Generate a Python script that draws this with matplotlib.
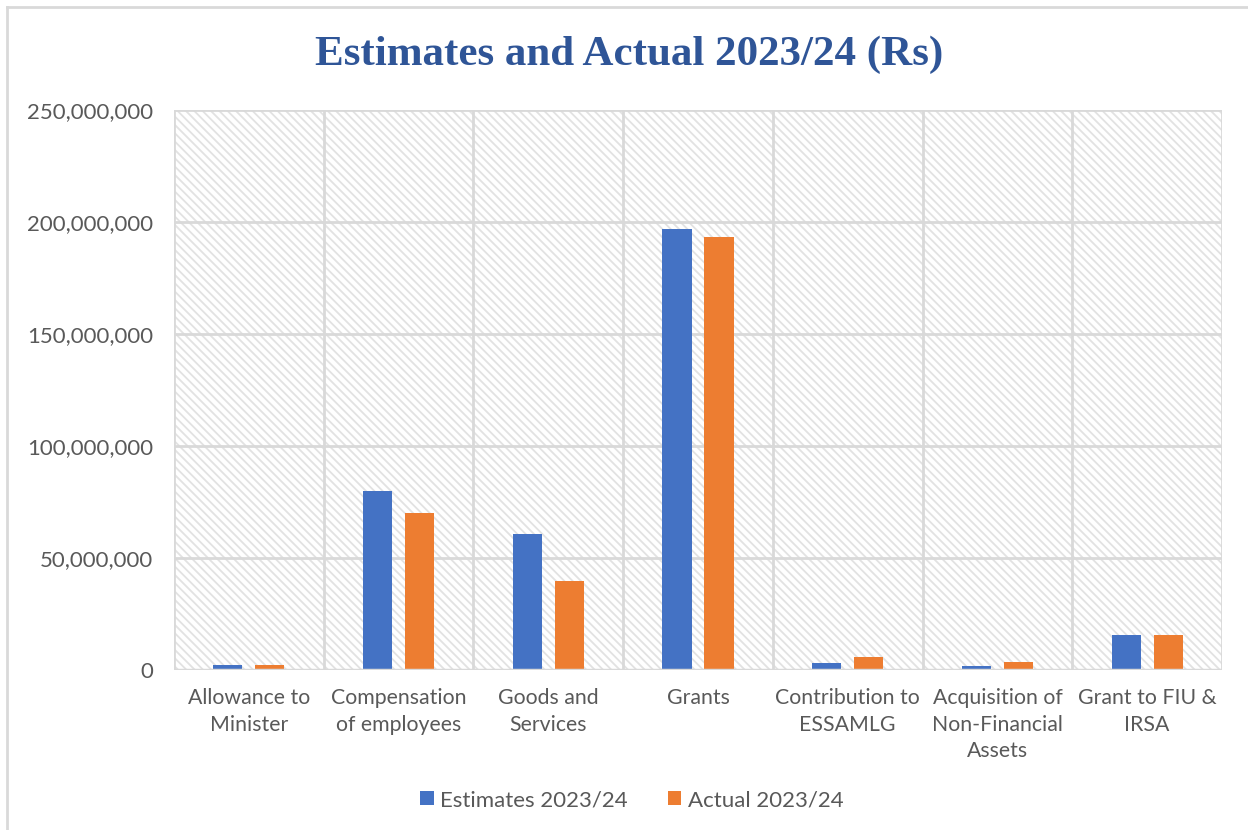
import numpy as np
import matplotlib.pyplot as plt
from matplotlib.patches import Rectangle
from matplotlib.lines import Line2D
from matplotlib.ticker import FuncFormatter, MultipleLocator

# Chart data
categories = ["Allowance to\nMinister", "Compensation\nof employees", "Goods and\nServices",
              "Grants", "Contribution to\nESSAMLG", "Acquisition of\nNon-Financial\nAssets",
              "Grant to FIU &\nIRSA"]
estimates = [2300000, 80000000, 60800000, 196900000, 3300000, 1800000, 15600000]
actual = [2300000, 70100000, 39700000, 193300000, 5700000, 3400000, 15600000]
series_names = ["Estimates 2023/24", "Actual 2023/24"]

blue = "#4472C4"
orange = "#ED7D31"
grid_col = "#d9d9d9"
text_col = "#595959"
plt.rcParams['hatch.linewidth'] = 1.3
plt.rcParams['font.family'] = ['Lato', 'DejaVu Sans']

fig = plt.figure(figsize=(12.48, 8.30), dpi=100)
ax = fig.add_axes([174 / 1248, 1 - 670 / 830, (1222 - 174) / 1248, (670 - 110) / 830])

x = np.arange(len(categories))
w = 0.195
ax.bar(x - 0.14, estimates, w, color=blue, label=series_names[0], zorder=3)
ax.bar(x + 0.14, actual, w, color=orange, label=series_names[1], zorder=3)

# hatched plot area background
ax.add_patch(Rectangle((0, 0), 1, 1, transform=ax.transAxes, facecolor="white",
                       edgecolor="#e2e2e2", hatch="\\\\\\\\", linewidth=0, zorder=0))

ax.set_xlim(-0.5, len(categories) - 0.5)
ax.set_ylim(0, 250000000)
ax.yaxis.set_major_locator(MultipleLocator(50000000))
ax.yaxis.set_major_formatter(FuncFormatter(lambda v, p: f"{int(v):,}"))

# gridlines at category boundaries and y ticks
for b in np.arange(-0.5, len(categories) + 0.5, 1):
    ax.axvline(b, color=grid_col, lw=2, zorder=1)
for yv in np.arange(50000000, 250000001, 50000000):
    ax.axhline(yv, color=grid_col, lw=2, zorder=1)
ax.axhline(0, color=grid_col, lw=2.5, zorder=4)

for s in ax.spines.values():
    s.set_visible(False)

ax.set_xticks(x)
ax.tick_params(axis="both", length=0, labelsize=16, labelcolor=text_col)
ax.set_xticklabels(categories, fontsize=15.3, color=text_col, linespacing=1.42, va="top")
ax.tick_params(axis="x", pad=13)
ax.tick_params(axis="y", pad=15)

fig.text(629 / 1248, 1 - 55 / 830, "Estimates and Actual 2023/24 (Rs)", ha="center", va="center",
         fontsize=31, fontweight="bold", color="#2F5597", family="Liberation Serif")

ax.legend(loc="center", bbox_to_anchor=(632 / 1248, 1 - 800 / 830), bbox_transform=fig.transFigure,
          ncol=2, frameon=False, fontsize=16, labelcolor=text_col, handlelength=0.6,
          handleheight=0.6, handletextpad=0.3, columnspacing=1.8)

# outer chart border (left and top)
fig.add_artist(Line2D([6.5 / 1248, 6.5 / 1248], [0, 1 - 7 / 830], color=grid_col, lw=2))
fig.add_artist(Line2D([6.5 / 1248, 1], [1 - 7 / 830, 1 - 7 / 830], color=grid_col, lw=2))

fig.savefig("out.png", dpi=100, facecolor="white")
